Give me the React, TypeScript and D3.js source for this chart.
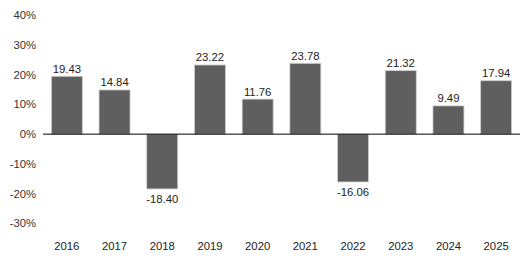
import React from "react";
import * as d3 from "d3";

const years = ["2016", "2017", "2018", "2019", "2020", "2021", "2022", "2023", "2024", "2025"];
const returns = [19.43, 14.84, -18.4, 23.22, 11.76, 23.78, -16.06, 21.32, 9.49, 17.94];
const yTicks = [40, 30, 20, 10, 0, -10, -20, -30];

const W = 522;
const H = 261;

export default function App() {
  const x = d3.scaleBand<string>().domain(years).range([43, 520]).paddingInner(0.35).paddingOuter(0.175);
  const y = d3.scaleLinear().domain([-30, 40]).range([223.5, 15]);
  const font = "'Liberation Sans', Arial, Helvetica, sans-serif";
  const fs = 11.3;
  return (
    <svg width={W} height={H} style={{ position: "absolute", left: 0, top: 0 }} fontFamily={font}>
      <rect width={W} height={H} fill="#fff" />
      {yTicks.map((t) => (
        <text key={t} x={36} y={y(t)} dy="0.35em" textAnchor="end" fontSize={fs} fill="#333">
          {t}%
        </text>
      ))}
      {years.map((yr, i) => {
        const v = returns[i];
        const x0 = x(yr)!;
        const top = y(Math.max(0, v));
        const bot = y(Math.min(0, v));
        return (
          <g key={yr}>
            <rect x={x0} y={top} width={x.bandwidth()} height={bot - top} fill="#5f5f5f" stroke="#cfcfcf" strokeWidth={0.8} />
            <text
              x={x0 + x.bandwidth() / 2}
              y={v >= 0 ? top - 3.5 : bot + 14}
              textAnchor="middle"
              fontSize={fs}
              fill="#222"
            >
              {v.toFixed(2)}
            </text>
            <text x={x0 + x.bandwidth() / 2} y={249.5} textAnchor="middle" fontSize={fs} fill="#222">
              {yr}
            </text>
          </g>
        );
      })}
      <line x1={43} x2={520} y1={y(0)} y2={y(0)} stroke="#000" strokeWidth={1} />
    </svg>
  );
}
